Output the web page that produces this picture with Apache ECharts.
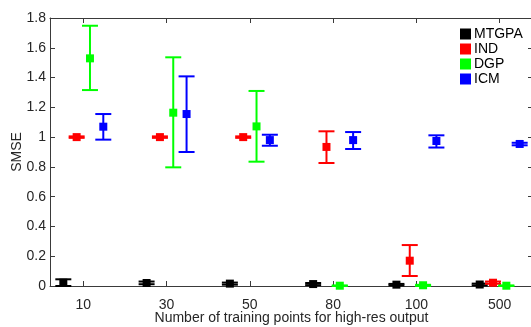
<!DOCTYPE html>
<html><head><meta charset="utf-8">
<script src="https://cdn.jsdelivr.net/npm/echarts@6/dist/echarts.min.js"></script>
<style>html,body{margin:0;padding:0;background:#fff}#c{width:531px;height:327px}</style>
</head><body><div id="c"></div>
<script>
const categories = ['10', '30', '50', '80', '100', '500'];
const seriesNames = ['MTGPA', 'IND', 'DGP', 'ICM'];
const yTicks = [0, 0.2, 0.4, 0.6, 0.8, 1, 1.2, 1.4, 1.6, 1.8];

const mtgpaVal = [0.022, 0.02, 0.016, 0.013, 0.009, 0.01];
const mtgpaLo  = [0.0,   0.012, 0.009, 0.006, 0.004, 0.004];
const mtgpaHi  = [0.045, 0.03, 0.023, 0.02, 0.014, 0.016];

const indVal = [1.0, 1.0, 1.0, 0.934, 0.17, 0.022];
const indLo  = [0.995, 0.995, 0.995, 0.826, 0.067, 0.015];
const indHi  = [1.005, 1.005, 1.005, 1.039, 0.275, 0.03];

const dgpVal = [1.529, 1.164, 1.072, 0.002, 0.005, 0.002];
const dgpLo  = [1.316, 0.797, 0.835, 0.0, 0.0, 0.0];
const dgpHi  = [1.748, 1.536, 1.31, 0.004, 0.008, 0.004];

const icmVal = [1.07, 1.155, 0.98, 0.98, 0.974, 0.954];
const icmLo  = [0.983, 0.9, 0.942, 0.92, 0.93, 0.945];
const icmHi  = [1.155, 1.408, 1.016, 1.034, 1.012, 0.962];

const colors = ['#000000', '#ff0000', '#00ff00', '#0000ff'];
const offsets = [-0.24, -0.08, 0.08, 0.24];
const allVals = [mtgpaVal, indVal, dgpVal, icmVal];
const allLo = [mtgpaLo, indLo, dgpLo, icmLo];
const allHi = [mtgpaHi, indHi, dgpHi, icmHi];

const font = 'Liberation Sans, Arial, Helvetica, sans-serif';
const axisColor = '#3a3a3a';
const tickPos = categories.map((_, i) => i + 1);

function makeSeries(k) {
  const data = allVals[k].map((v, i) => [i + 1 + offsets[k], v, allLo[k][i], allHi[k][i]]);
  return {
    name: seriesNames[k],
    type: 'custom',
    itemStyle: { color: colors[k] },
    data: data,
    encode: { x: 0, y: [1, 2, 3] },
    renderItem: function (params, api) {
      const x = api.value(0);
      const c = api.coord([x, api.value(1)]);
      const lo = api.coord([x, api.value(2)]);
      const hi = api.coord([x, api.value(3)]);
      const hw = 8, m = 4;
      const st = { stroke: colors[k], lineWidth: 2 };
      return {
        type: 'group',
        children: [
          { type: 'line', shape: { x1: c[0], y1: lo[1], x2: c[0], y2: hi[1] }, style: st },
          { type: 'line', shape: { x1: c[0] - hw, y1: lo[1], x2: c[0] + hw, y2: lo[1] }, style: st },
          { type: 'line', shape: { x1: c[0] - hw, y1: hi[1], x2: c[0] + hw, y2: hi[1] }, style: st },
          { type: 'rect', shape: { x: c[0] - m, y: c[1] - m, width: 2 * m, height: 2 * m }, style: { fill: colors[k] } }
        ]
      };
    }
  };
}

const chart = echarts.init(document.getElementById('c'), null, { renderer: 'canvas' });
const commonX = {
  type: 'value', min: 0.6, max: 6.4,
  splitLine: { show: false },
  axisLine: { show: true, onZero: false, lineStyle: { color: axisColor, width: 1 } },
  axisTick: { show: true, inside: true, length: 5, customValues: tickPos, lineStyle: { color: axisColor } }
};
const commonY = {
  type: 'value', min: 0, max: 1.8, interval: 0.2,
  splitLine: { show: false },
  axisLine: { show: true, lineStyle: { color: axisColor, width: 1 } },
  axisTick: { show: true, inside: true, length: 5, lineStyle: { color: axisColor } }
};
chart.setOption({
  animation: false,
  backgroundColor: '#fff',
  grid: { left: 50, right: -2, top: 18, bottom: 41, containLabel: false, outerBoundsMode: 'none' },
  legend: {
    orient: 'vertical', left: 455, top: 22,
    icon: 'rect', itemWidth: 11, itemHeight: 11, itemGap: 1,
    textStyle: { fontFamily: font, fontSize: 14, color: '#000', padding: [0, 0, 0, -2], lineHeight: 14 },
    data: seriesNames.map((n, k) => ({ name: n, itemStyle: { color: colors[k] } }))
  },
  xAxis: [
    Object.assign({}, commonX, {
      position: 'bottom',
      name: 'Number of training points for high-res output',
      nameLocation: 'middle', nameGap: 25, nameMoveOverlap: false,
      nameTextStyle: { fontFamily: font, fontSize: 14, color: '#262626' },
      axisLabel: { show: true, customValues: tickPos, margin: 12, fontFamily: font, fontSize: 14, color: '#262626',
        formatter: v => categories[Math.round(v) - 1] }
    }),
    Object.assign({}, commonX, { position: 'top', axisLabel: { show: false } })
  ],
  yAxis: [
    Object.assign({}, commonY, {
      position: 'left',
      name: 'SMSE', nameLocation: 'middle', nameGap: 26, nameMoveOverlap: false,
      nameTextStyle: { fontFamily: font, fontSize: 14, color: '#262626' },
      axisLabel: { show: true, margin: 4, fontFamily: font, fontSize: 14, color: '#262626' }
    }),
    Object.assign({}, commonY, { position: 'right', axisLabel: { show: false } })
  ],
  series: seriesNames.map((_, k) => makeSeries(k))
});
</script></body></html>
